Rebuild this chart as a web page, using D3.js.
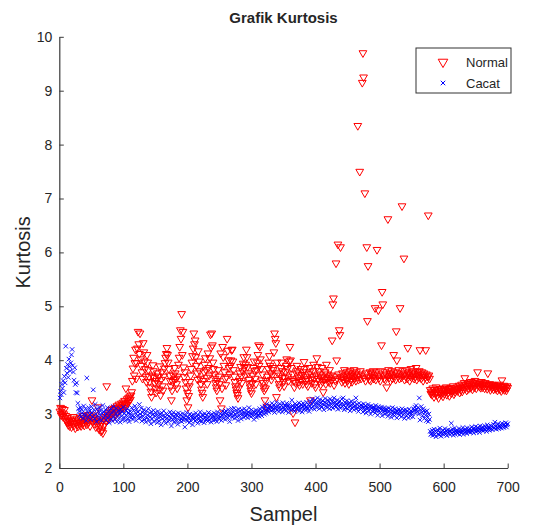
<!DOCTYPE html>
<html>
<head>
<meta charset="utf-8">
<script src="https://cdn.jsdelivr.net/npm/d3@7"></script>
<style>
  body { margin: 0; background: #fff; }
  svg { display: block; }
  text { font-family: "Liberation Sans", Arial, Helvetica, sans-serif; fill: #262626; }
</style>
</head>
<body>
<svg id="chart" width="538" height="529"></svg>
<script>
// Kurtosis per sample (sample 1..700)
const normalKurtosis = [
  3.05,3.12,2.98,3.02,3.10,2.95,3.00,3.08,2.92,2.97,2.88,2.85,2.93,2.80,2.86,2.78,2.90,2.83,2.76,2.88,
  2.82,2.95,2.79,2.87,2.74,2.84,2.92,2.81,2.77,2.89,2.85,2.80,2.93,2.78,2.86,2.82,2.97,2.84,2.79,2.90,
  2.87,2.94,2.81,2.88,2.99,2.85,2.92,2.78,2.96,2.90,3.26,2.86,2.93,2.82,2.89,2.98,2.76,2.84,2.91,3.13,
  2.83,2.72,2.88,2.79,2.68,2.85,2.70,2.65,2.78,2.90,2.82,2.95,2.87,3.52,2.93,2.98,2.91,3.02,2.96,3.05,
  2.99,3.08,3.01,2.94,3.10,3.04,3.12,2.98,3.07,3.15,3.03,3.11,3.18,3.06,3.14,3.09,3.20,3.13,3.17,3.22,
  3.12,3.25,3.19,3.48,3.16,3.28,3.21,3.30,3.24,3.33,3.27,3.35,3.41,3.62,3.85,4.05,3.72,3.95,4.20,3.66,
  3.95,4.22,4.53,4.30,4.12,4.50,4.02,3.90,3.78,3.66,4.32,4.15,3.98,3.84,3.70,3.60,4.10,3.96,3.82,3.70,
  3.60,3.50,3.42,3.32,3.72,3.91,3.80,3.68,3.58,3.48,3.40,3.62,3.76,3.70,3.56,3.46,3.89,3.35,3.64,3.78,
  3.52,3.44,3.70,3.85,3.95,4.05,4.12,4.23,4.10,3.96,3.84,3.72,3.62,3.52,3.26,3.44,3.60,3.72,3.64,3.86,
  3.76,3.66,3.56,3.48,3.70,3.92,4.05,4.25,4.56,4.40,4.86,4.10,4.53,3.87,3.69,3.78,3.60,3.48,3.26,3.40,
  3.13,3.34,3.52,3.60,3.72,3.84,3.96,4.08,4.22,4.50,4.30,4.37,4.06,3.90,3.76,3.64,4.17,3.98,3.80,3.66,
  3.56,3.46,3.40,3.32,3.62,3.78,3.92,4.04,3.82,3.68,3.56,4.13,3.86,3.72,4.04,4.48,4.24,4.50,4.28,3.96,
  3.84,3.74,3.66,3.58,3.50,3.44,3.62,3.82,3.70,3.56,3.26,4.13,3.11,3.48,4.25,4.06,3.90,3.78,3.66,3.54,
  3.69,4.40,4.18,4.00,3.86,3.74,3.90,4.00,4.19,4.20,3.98,3.82,3.70,3.60,3.52,3.46,3.40,3.36,3.30,3.48,
  3.62,3.76,3.88,3.70,3.58,3.80,3.94,4.06,3.86,3.72,3.92,4.20,4.06,3.88,3.76,3.64,3.56,3.50,3.44,3.39,
  3.58,3.72,3.86,3.98,3.80,3.66,3.56,3.82,3.96,4.10,4.28,3.90,4.25,4.02,3.84,3.63,3.74,3.58,3.50,3.44,
  3.26,3.48,3.62,3.13,3.70,3.84,3.96,4.08,3.90,3.76,3.64,3.72,3.86,3.82,4.15,4.50,4.40,4.32,3.32,3.96,
  3.76,3.64,3.56,3.50,3.72,3.86,3.96,3.80,3.68,3.60,3.52,3.67,3.78,3.90,4.02,3.84,3.70,3.62,3.98,4.25,
  4.00,3.86,3.65,3.74,3.02,3.62,3.50,2.85,3.58,3.76,3.90,3.80,3.68,3.60,3.54,3.72,3.84,3.64,3.73,3.56,
  3.78,3.97,3.84,3.70,3.62,3.56,3.66,3.52,3.74,3.86,3.78,3.26,3.64,3.58,3.70,3.80,3.92,3.66,3.56,3.50,
  3.72,4.04,3.88,3.66,3.80,3.62,3.74,3.55,3.68,3.86,3.60,3.41,3.70,3.64,3.78,3.56,3.92,3.66,3.74,3.60,
  3.68,3.82,3.58,3.72,3.64,4.37,5.04,5.15,3.54,3.70,3.62,5.80,4.00,3.66,6.15,3.74,4.56,4.47,6.10,3.68,
  3.60,3.76,3.70,3.64,3.82,3.58,3.72,3.66,3.78,3.62,3.74,3.56,3.70,3.80,3.64,3.72,3.60,3.76,3.68,3.82,
  3.66,3.74,3.62,3.78,3.70,8.35,3.64,3.72,7.50,3.80,3.66,3.74,9.15,9.70,9.25,3.68,7.10,3.62,3.76,6.10,
  4.73,5.75,3.70,3.64,3.78,3.62,3.74,3.76,3.68,3.80,3.66,3.72,4.97,3.64,3.78,6.05,3.70,4.93,3.67,3.74,
  3.62,3.80,4.28,5.27,5.04,3.72,3.66,3.78,3.64,3.74,3.50,3.70,6.62,3.82,3.68,3.76,3.62,3.74,3.80,3.66,
  3.72,4.10,3.68,3.78,3.64,4.54,4.00,3.76,3.70,3.82,3.66,4.97,3.74,3.68,6.86,3.80,3.72,5.89,3.64,3.76,
  3.70,3.82,3.66,4.23,3.74,3.78,3.62,3.70,3.84,3.68,3.76,3.72,3.80,3.66,3.74,3.70,3.86,3.64,3.78,3.72,
  3.68,3.80,4.19,3.74,3.66,3.78,3.70,3.62,3.76,3.72,3.68,4.19,3.74,3.64,3.70,6.69,3.72,3.66,3.45,3.38,
  3.42,3.36,3.48,3.40,3.32,3.45,3.38,3.50,3.41,3.35,3.46,3.30,3.43,3.39,3.47,3.36,3.44,3.40,3.33,3.48,
  3.38,3.45,3.42,3.50,3.36,3.44,3.40,3.47,3.34,3.43,3.49,3.39,3.46,3.42,3.52,3.37,3.45,3.41,3.48,3.44,
  3.50,3.43,3.47,3.53,3.40,3.49,3.45,3.55,3.42,3.51,3.46,3.58,3.67,3.48,3.54,3.44,3.52,3.57,3.47,3.53,
  3.56,3.49,3.60,3.52,3.46,3.58,3.54,3.50,3.62,3.55,3.48,3.57,3.78,3.53,3.59,3.51,3.56,3.49,3.60,3.54,
  3.50,3.57,3.53,3.48,3.58,3.52,3.55,3.47,3.76,3.54,3.50,3.56,3.45,3.53,3.49,3.55,3.51,3.46,3.54,3.50,
  3.47,3.53,3.49,3.44,3.52,3.48,3.55,3.46,3.51,3.43,3.63,3.50,3.47,3.53,3.45,3.51,3.48,3.44,3.52,3.49
];

const cacatKurtosis = [
  3.30,3.42,3.36,3.55,3.48,3.62,3.40,3.70,3.58,4.26,
  3.85,3.76,3.92,3.68,4.02,3.88,3.80,3.95,4.10,4.20,3.90,3.78,3.63,3.86,3.55,3.40,3.58,3.39,3.20,3.10,
  3.05,2.98,3.12,2.95,3.08,3.02,2.92,3.15,3.00,2.96,3.10,2.88,3.67,3.04,2.94,3.12,2.99,3.06,2.90,3.14,
  3.02,2.95,3.45,3.08,2.92,3.18,3.00,2.86,3.10,2.97,3.05,2.90,3.13,2.98,3.07,2.88,3.02,3.16,2.94,3.04,
  2.96,3.08,2.89,3.01,3.12,2.93,3.05,2.84,2.99,3.10,2.91,3.03,2.87,3.14,2.95,3.06,2.90,3.00,3.11,2.86,
  2.98,3.07,2.92,3.02,2.85,3.09,2.96,3.04,2.89,3.13,2.94,3.01,2.88,3.06,2.97,3.10,2.91,3.03,2.86,2.99,
  3.05,2.93,3.12,2.98,2.90,3.07,2.95,3.15,3.02,2.88,3.09,2.97,3.04,2.92,3.18,3.00,2.94,3.11,2.87,3.03,
  2.96,3.08,2.90,3.01,2.85,3.06,2.93,2.98,3.10,2.88,3.02,2.95,2.82,3.04,2.91,2.99,3.07,2.86,2.97,3.03,
  2.90,2.98,2.84,3.05,2.93,2.87,3.00,2.95,2.80,3.02,2.91,2.97,3.06,2.88,2.94,2.83,3.01,2.92,2.99,2.86,
  2.96,2.89,3.04,2.93,2.78,2.98,2.90,3.03,2.85,2.95,2.92,3.00,2.87,2.97,2.81,3.02,2.94,2.88,2.99,2.91,
  2.86,2.96,3.01,2.89,2.93,2.76,2.98,2.90,3.03,2.87,2.95,2.92,2.84,3.00,2.88,2.97,2.93,2.80,2.99,2.91,
  2.94,2.87,3.02,2.90,2.96,2.83,2.98,2.92,2.88,3.04,2.95,2.86,2.99,2.91,2.97,2.84,3.01,2.93,2.89,2.98,
  2.92,2.87,3.03,2.95,2.90,2.98,2.85,3.00,2.93,2.96,2.88,3.02,2.94,2.90,2.99,2.86,3.04,2.92,2.97,2.91,
  2.95,3.01,2.88,2.98,3.05,2.92,2.99,3.03,2.90,3.06,2.96,3.00,2.93,3.08,2.97,2.86,3.02,2.99,3.10,2.94,
  3.04,2.98,3.11,2.92,3.00,3.07,2.95,3.02,2.88,3.09,2.97,3.05,3.00,2.91,3.08,2.99,3.03,2.94,3.10,3.01,
  2.96,3.06,3.00,2.93,3.04,3.12,2.98,3.02,2.95,3.08,3.01,2.97,3.05,2.90,3.03,2.99,3.07,2.94,3.02,2.98,
  3.06,2.96,3.10,3.01,3.04,2.97,3.13,3.05,3.09,3.00,3.15,3.07,3.02,3.18,3.08,3.11,3.04,3.16,3.09,3.13,
  3.06,3.20,3.12,3.08,3.17,3.03,3.14,3.10,3.22,3.07,3.15,3.11,3.05,3.19,3.13,3.09,3.16,3.04,3.21,3.12,
  3.08,3.17,3.14,3.06,3.20,3.11,3.15,3.03,3.18,3.10,3.13,3.07,3.26,3.16,3.09,3.12,3.05,3.19,3.14,3.10,
  3.17,3.08,3.13,3.21,3.06,3.15,3.11,3.18,3.04,3.14,3.20,3.09,3.16,3.12,3.07,3.22,3.13,3.10,3.18,3.05,
  3.15,3.24,3.11,3.19,3.28,3.14,3.22,3.09,3.26,3.17,3.20,3.12,3.30,3.18,3.23,3.10,3.27,3.16,3.21,3.13,
  3.25,3.18,3.08,3.22,3.29,3.15,3.20,3.12,3.26,3.17,3.23,3.10,3.28,3.19,3.14,3.24,3.11,3.21,3.30,3.16,
  3.22,3.13,3.18,3.26,3.09,3.20,3.15,3.24,3.11,3.19,3.28,3.14,3.30,3.17,3.08,3.22,3.12,3.19,3.25,3.10,
  3.18,3.13,3.21,3.06,3.16,3.24,3.11,3.19,3.14,3.08,3.22,3.15,3.30,3.10,3.18,3.12,3.05,3.20,3.14,3.09,
  3.17,3.11,3.15,3.04,3.19,3.12,3.08,3.16,3.02,3.13,3.10,3.18,3.06,3.14,3.09,3.00,3.15,3.11,3.05,3.13,
  3.08,3.12,3.02,3.16,3.07,3.10,2.98,3.14,3.06,3.11,3.03,3.09,3.13,2.97,3.08,3.04,3.12,3.00,3.07,3.10,
  3.02,3.08,2.96,3.11,3.05,3.01,3.09,2.94,3.06,3.12,3.00,3.04,2.97,3.10,3.03,3.07,2.93,3.05,3.01,3.09,
  2.98,3.06,3.02,2.95,3.10,3.04,2.99,3.07,2.92,3.03,3.08,2.97,3.05,3.00,2.93,3.09,3.02,2.96,3.06,3.01,
  3.04,2.95,3.10,3.07,3.13,3.02,3.16,3.09,3.05,3.12,3.00,3.30,2.89,3.08,3.14,3.03,2.97,3.10,3.06,2.92,
  3.04,2.98,2.88,3.06,2.94,2.86,3.00,2.90,2.68,2.62,
  2.64,2.70,2.60,2.67,2.72,2.62,2.68,2.58,2.66,2.71,2.63,2.69,2.61,2.74,2.65,2.59,2.68,2.64,2.70,2.62,
  2.67,2.73,2.63,2.69,2.60,2.66,2.71,2.64,2.68,2.62,2.70,2.83,2.65,2.72,2.61,2.67,2.74,2.63,2.69,2.66,
  2.70,2.64,2.68,2.73,2.62,2.67,2.71,2.65,2.69,2.75,2.63,2.70,2.66,2.72,2.68,2.64,2.74,2.69,2.71,2.67,
  2.73,2.66,2.70,2.76,2.68,2.72,2.65,2.74,2.70,2.77,2.67,2.71,2.75,2.69,2.73,2.66,2.78,2.71,2.74,2.70,
  2.76,2.69,2.73,2.78,2.71,2.75,2.68,2.80,2.72,2.76,2.74,2.70,2.79,2.73,2.77,2.71,2.75,2.81,2.74,2.85,
  2.77,2.72,2.79,2.75,2.82,2.73,2.78,2.76,2.80,2.74,2.83,2.77,2.79,2.75,2.81,2.78,2.84,2.76,2.80,2.82
];

const xTicks = [0, 100, 200, 300, 400, 500, 600, 700];
const yTicks = [2, 3, 4, 5, 6, 7, 8, 9, 10];
const seriesNames = ["Normal", "Cacat"];

const W = 538, H = 529;
const margin = {top: 36.8, right: 30.3, bottom: 61, left: 59.3};

const svg = d3.select("#chart");
const x = d3.scaleLinear().domain([0, 700]).range([margin.left, W - margin.right]);
const y = d3.scaleLinear().domain([2, 10]).range([H - margin.bottom, margin.top]);

const axisColor = "#3a3a3a";

// axes (MATLAB style: ticks inward, box off)
const gx = svg.append("g")
  .attr("transform", `translate(0,${H - margin.bottom})`)
  .call(d3.axisBottom(x).tickValues(xTicks).tickSizeInner(-4.5).tickSizeOuter(0).tickPadding(14));
const gy = svg.append("g")
  .attr("transform", `translate(${margin.left},0)`)
  .call(d3.axisLeft(y).tickValues(yTicks).tickSizeInner(-4.5).tickSizeOuter(0).tickPadding(7));

[gx, gy].forEach(g => {
  g.select(".domain").attr("stroke", axisColor).attr("stroke-width", 1.2);
  g.selectAll(".tick line").attr("stroke", axisColor).attr("stroke-width", 1);
  g.selectAll(".tick text").attr("font-size", 14).attr("fill", "#333")
    .style("font-family", '"Liberation Sans", Arial, sans-serif');
});

// markers
const triDown = d3.symbol().type(d3.symbolTriangle).size(26);
const crossX = {
  draw(ctx, size) {
    const r = Math.sqrt(size) / 2;
    ctx.moveTo(-r, -r); ctx.lineTo(r, r);
    ctx.moveTo(r, -r); ctx.lineTo(-r, r);
  }
};
const xMark = d3.symbol().type(crossX).size(20);

const plot = svg.append("g");

plot.append("g").selectAll("path")
  .data(normalKurtosis)
  .join("path")
  .attr("d", triDown)
  .attr("transform", (d, i) => `translate(${x(i + 1)},${y(d)}) rotate(180)`)
  .attr("fill", "none")
  .attr("stroke", "#ff0000")
  .attr("stroke-width", 1);

plot.append("g").selectAll("path")
  .data(cacatKurtosis)
  .join("path")
  .attr("d", xMark)
  .attr("transform", (d, i) => `translate(${x(i + 1)},${y(d)})`)
  .attr("fill", "none")
  .attr("stroke", "#0000ff")
  .attr("stroke-width", 0.9);

// title and labels
svg.append("text")
  .attr("x", (margin.left + W - margin.right) / 2).attr("y", 23)
  .attr("text-anchor", "middle").attr("font-size", 15).attr("font-weight", "bold")
  .attr("fill", "#1a1a1a")
  .text("Grafik Kurtosis");

svg.append("text")
  .attr("x", (margin.left + W - margin.right) / 2).attr("y", 521)
  .attr("text-anchor", "middle").attr("font-size", 20).attr("fill", "#333")
  .text("Sampel");

svg.append("text")
  .attr("transform", `translate(30,${(margin.top + H - margin.bottom) / 2}) rotate(-90)`)
  .attr("text-anchor", "middle").attr("font-size", 20).attr("fill", "#333")
  .text("Kurtosis");

// legend
const lg = svg.append("g").attr("transform", "translate(416,48)");
lg.append("rect").attr("width", 95).attr("height", 45)
  .attr("fill", "#fff").attr("stroke", "#333").attr("stroke-width", 1);
const legendMarks = [
  {name: seriesNames[0], sym: d3.symbol().type(d3.symbolTriangle).size(40), rot: 180, color: "#ff0000"},
  {name: seriesNames[1], sym: d3.symbol().type(crossX).size(20), rot: 0, color: "#0000ff"}
];
legendMarks.forEach((m, i) => {
  const row = lg.append("g").attr("transform", `translate(0,${14 + i * 21})`);
  row.append("path").attr("d", m.sym)
    .attr("transform", `translate(27,0) rotate(${m.rot})`)
    .attr("fill", "none").attr("stroke", m.color).attr("stroke-width", 1);
  row.append("text").attr("x", 50).attr("dy", "0.36em")
    .attr("font-size", 13).attr("fill", "#222").text(m.name);
});
</script>
</body>
</html>
